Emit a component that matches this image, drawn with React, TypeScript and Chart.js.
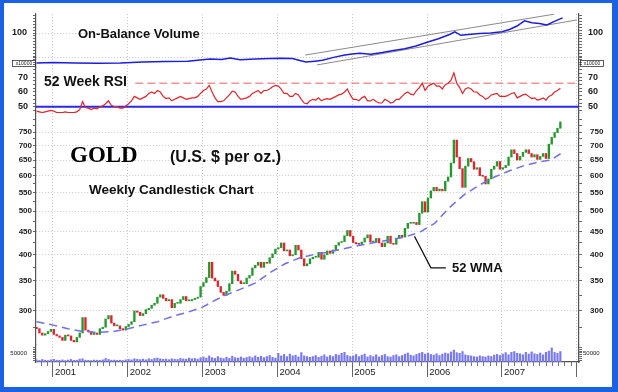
import React, { useEffect, useRef } from "react";
import { Chart, registerables } from "chart.js";

Chart.register(...registerables);

const FONT = "'Liberation Sans', Arial, Helvetica, sans-serif";
const SERIF = "'Liberation Serif', 'Times New Roman', serif";

// ---- x range (decimal years) ----
const X_MIN = 2000.773;
const X_MAX = 2008.029;
const FIRST_BAR = 2000.78; // first bi-weekly bar
const BAR_STEP = 1 / 26; // two weeks

// ---- gold closes, bi-weekly (US$/oz) ----
const firstOpen = 276;
const close2000 = [274, 268, 265, 267, 270, 273];
const close2001 = [266, 264, 262, 258, 265, 264, 258, 256, 262, 268, 290, 272, 270, 266, 268, 266, 274, 276, 288, 293, 282, 278, 278, 274, 272, 277];
const close2002 = [280, 284, 300, 298, 293, 296, 302, 304, 309, 312, 322, 326, 320, 316, 318, 305, 312, 312, 318, 323, 316, 316, 318, 320, 322, 340];
const close2003 = [347, 356, 385, 355, 350, 340, 330, 325, 332, 345, 368, 362, 350, 345, 345, 355, 360, 374, 379, 385, 375, 385, 383, 394, 402, 412];
const close2004 = [415, 425, 408, 410, 398, 400, 420, 410, 392, 378, 382, 392, 395, 395, 405, 391, 400, 408, 403, 410, 420, 426, 428, 441, 453, 440];
const close2005 = [426, 423, 422, 427, 436, 443, 427, 428, 435, 425, 417, 425, 440, 424, 422, 435, 442, 438, 458, 470, 470, 472, 467, 495, 525, 498];
const close2006 = [535, 555, 565, 555, 560, 555, 583, 596, 640, 720, 660, 622, 565, 630, 655, 644, 620, 625, 600, 598, 575, 590, 620, 630, 645, 620];
const close2007 = [625, 632, 660, 685, 672, 650, 662, 676, 685, 672, 660, 668, 652, 662, 672, 655, 705, 730, 748, 765, 790];

// ---- 52 week RSI, bi-weekly ----
const rsi2000 = [47, 46.5, 46, 46.5, 47, 47.5];
const rsi2001 = [47, 46, 46, 46, 46.5, 46, 46, 46, 46.5, 48, 53.5, 49.5, 49, 48, 49, 48.5, 50, 50.5, 52, 54, 51, 50, 50, 49, 49, 50.5];
const rsi2002 = [52, 54, 57, 56, 55, 56, 57, 59, 60, 59, 61, 60, 57, 55.5, 56, 54, 55, 56, 57, 56, 55, 55.5, 56, 56, 57, 59];
const rsi2003 = [61, 62, 64.5, 60, 56, 53.5, 53.5, 54, 56, 58, 60.5, 60, 57, 55, 55.5, 56, 57, 59, 60, 61, 59, 61, 61, 62, 63.5, 64.5];
const rsi2004 = [64, 62, 59, 59, 57, 57, 59, 58, 55, 52.5, 52, 54, 55, 54.5, 56, 54, 55, 55.5, 55, 56, 57, 58, 58.5, 60, 62, 58];
const rsi2005 = [55, 55, 54, 56, 57, 54, 54, 55, 53.5, 52.5, 52.5, 55, 54, 52.5, 53, 55, 55, 57, 59, 60, 58.5, 58, 61, 63, 66, 61];
const rsi2006 = [64, 65, 66, 64, 64, 62, 65, 66, 68, 73, 66, 63, 59, 62, 63, 62, 60, 60, 58, 57, 55, 56, 58, 58.5, 59, 57];
const rsi2007 = [57, 57, 58, 59, 59.5, 56, 57, 58, 58.5, 57, 55.5, 56, 54.5, 55, 56, 54.5, 57, 58, 60, 61, 62.5];

// ---- volume, bi-weekly (thousands) ----
const vol2000 = [12, 9, 14, 10, 8, 12];
const vol2001 = [15, 10, 9, 12, 8, 11, 14, 9, 10, 16, 18, 10, 9, 8, 11, 10, 9, 12, 20, 14, 10, 11, 9, 10, 8, 12];
const vol2002 = [14, 12, 18, 15, 13, 16, 12, 18, 14, 20, 22, 18, 15, 16, 13, 18, 15, 14, 20, 17, 16, 22, 18, 20, 16, 24];
const vol2003 = [28, 22, 34, 24, 20, 30, 22, 19, 27, 20, 32, 24, 22, 28, 21, 25, 30, 24, 34, 26, 32, 24, 30, 36, 26, 22];
const vol2004 = [48, 34, 42, 30, 44, 34, 38, 28, 52, 34, 30, 26, 30, 36, 26, 32, 40, 28, 36, 30, 42, 38, 48, 54, 36, 30];
const vol2005 = [34, 42, 30, 38, 44, 28, 36, 30, 40, 28, 36, 42, 30, 28, 36, 40, 30, 36, 44, 50, 38, 34, 42, 48, 54, 44];
const vol2006 = [50, 42, 38, 46, 36, 44, 50, 46, 56, 66, 52, 48, 58, 40, 36, 34, 30, 28, 34, 30, 28, 34, 30, 38, 42, 36];
const vol2007 = [44, 52, 40, 54, 58, 48, 46, 40, 54, 44, 56, 46, 42, 50, 40, 54, 60, 78, 54, 48, 58];

// ---- 52 week weighted moving average ----
const wmaYears = [2000.78, 2001.0, 2001.2, 2001.4, 2001.6, 2001.8, 2002.0, 2002.2, 2002.4, 2002.6, 2002.8, 2003.0, 2003.15, 2003.3, 2003.5, 2003.7, 2003.9, 2004.1, 2004.3, 2004.5, 2004.7, 2004.9, 2005.1, 2005.3, 2005.5, 2005.7, 2005.9, 2006.1, 2006.3, 2006.5, 2006.7, 2006.9, 2007.1, 2007.3, 2007.5, 2007.65, 2007.8];
const wmaValues = [284, 279, 274, 270, 269, 270, 274, 279, 284, 292, 298, 306, 316, 325, 335, 346, 365, 382, 394, 401, 406, 413, 420, 426, 432, 438, 449, 470, 510, 545, 572, 596, 615, 632, 644, 650, 674];

// ---- On-Balance Volume (x10000) ----
const obvYears = [2000.78, 2001.0, 2001.3, 2001.6, 2001.9, 2002.2, 2002.5, 2002.8, 2003.0, 2003.1, 2003.25, 2003.37, 2003.5, 2003.7, 2003.9, 2004.05, 2004.2, 2004.3, 2004.38, 2004.5, 2004.6, 2004.75, 2004.9, 2005.0, 2005.1, 2005.25, 2005.4, 2005.55, 2005.7, 2005.85, 2006.0, 2006.15, 2006.3, 2006.37, 2006.45, 2006.55, 2006.7, 2006.85, 2007.0, 2007.1, 2007.2, 2007.3, 2007.4, 2007.5, 2007.6, 2007.7, 2007.81];
const obvValues = [-3, -2, -3, -4, -3, 0, 2, 3, 8, 10, 9, 14, 8, 10, 12, 13, 12, 5, 0, 3, 6, 16, 24, 28, 30, 27, 33, 40, 46, 55, 68, 80, 95, 104, 92, 95, 98, 100, 104, 112, 124, 142, 135, 133, 128, 140, 152];
const obvUpperYears = [2004.37, 2007.7];
const obvUpperValues = [24, 165];
const obvLowerYears = [2004.53, 2008.0];
const obvLowerValues = [-10, 145];

// ---- reference levels & annotation ----
const rsiLevel = 50;
const rsiUpperLevel = 66;
const rsiUpperStart = 2002.1;
const leaderYears = [2005.83, 2006.05, 2006.25];
const leaderValues = [440, 374, 374];

// ---- ticks ----
const yearTicks = [2001, 2002, 2003, 2004, 2005, 2006, 2007, 2008];
const yearLabels = ["2001", "2002", "2003", "2004", "2005", "2006", "2007", ""];
const priceTicks = [300, 350, 400, 450, 500, 550, 600, 650, 700, 750];
const priceMinor = [275, 325, 375, 425, 475, 525, 575, 625, 675, 725, 775, 800];
const rsiTicks = [50, 60, 70];
const rsiMinor = [47.5, 52.5, 55, 57.5, 62.5, 65, 67.5, 72.5, 75];
const obvTicks = [100];
const obvGrid = [17, 100];
const obvMinor = [-10, 0, 10, 20, 30, 40, 50, 60, 70, 80, 90, 110, 120, 130, 140, 150, 160];
const volTicks = [50000];
const volMinor = [10000, 20000, 30000, 40000, 60000, 70000, 80000];

const closes = [...close2000, ...close2001, ...close2002, ...close2003, ...close2004, ...close2005, ...close2006, ...close2007];
const rsiAll = [...rsi2000, ...rsi2001, ...rsi2002, ...rsi2003, ...rsi2004, ...rsi2005, ...rsi2006, ...rsi2007];
const volAll = [...vol2000, ...vol2001, ...vol2002, ...vol2003, ...vol2004, ...vol2005, ...vol2006, ...vol2007];
const barYears = closes.map((_, i) => FIRST_BAR + i * BAR_STEP);

const candleData = closes.map((c, i) => ({ x: barYears[i], y: [i === 0 ? firstOpen : closes[i - 1], c] }));
const candleColors = closes.map((c, i) => (c >= (i === 0 ? firstOpen : closes[i - 1]) ? "#23992b" : "#e2232b"));
const pairs = (xs: number[], ys: number[]) => xs.map((x, i) => ({ x, y: ys[i] }));

const GRID = "#c8c8c8";
const DOT = [1, 2];

function yAxis(o: any) {
  const labelMap = new Map<number, string>(o.labels);
  const all = [...o.labels.map((l: any) => l[0]), ...o.minor, ...o.grid]
    .filter((v: number, i: number, a: number[]) => a.indexOf(v) === i)
    .sort((a: number, b: number) => a - b);
  return {
    type: o.type || "linear",
    position: o.side,
    stack: o.side,
    stackWeight: o.weight,
    min: o.min,
    max: o.max,
    afterBuildTicks: (s: any) => {
      s.ticks = all.map((v: number) => ({ value: v }));
    },
    afterFit: (s: any) => {
      s.width = o.side === "left" ? 36 : 39;
    },
    ticks: {
      autoSkip: false,
      padding: o.pad,
      color: "#1a1a1a",
      font: { family: FONT, size: o.size, weight: o.bold ? "bold" : "normal" },
      callback: (v: number) => labelMap.get(v) ?? "",
    },
    grid: {
      drawOnChartArea: o.side === "left",
      color: (c: any) => (c.tick && o.grid.includes(c.tick.value) ? GRID : "rgba(0,0,0,0)"),
      tickColor: "#666",
      tickLength: 3,
      lineWidth: 1,
    },
    border: { color: "#555", width: 1.2, dash: DOT },
  };
}

const priceLabels = priceTicks.map((v) => [v, String(v)]);
const rsiLabels = rsiTicks.map((v) => [v, String(v)]);
const obvLabels = obvTicks.map((v) => [v, String(v)]);
const volLabels = volTicks.map((v) => [v, String(v)]);

const extras = {
  id: "extras",
  afterDraw(chart: any) {
    const { ctx, chartArea } = chart;
    const xs = chart.scales.x;
    ctx.save();
    ctx.strokeStyle = "#777";
    ctx.lineWidth = 1;
    for (let y = 2000; y <= 2008; y++) {
      for (let m = 1; m < 12; m++) {
        const v = y + m / 12;
        if (v <= xs.min || v >= xs.max) continue;
        const px = Math.round(xs.getPixelForValue(v)) + 0.5;
        ctx.beginPath();
        ctx.moveTo(px, chartArea.bottom);
        ctx.lineTo(px, chartArea.bottom + 4);
        ctx.stroke();
      }
    }
    for (const id of ["obvL", "obvR"]) {
      const s = chart.scales[id];
      const cy = Math.round(s.bottom - 4) + 0.5;
      const x0 = id === "obvL" ? s.right - 24 : s.left + 1;
      ctx.strokeStyle = "#333";
      ctx.lineWidth = 0.8;
      ctx.strokeRect(Math.round(x0) + 0.5, cy - 3, 23, 6);
      ctx.fillStyle = "#222";
      ctx.font = `5px ${FONT}`;
      ctx.textAlign = "center";
      ctx.textBaseline = "middle";
      ctx.fillText("x10000", x0 + 12, cy);
    }
    ctx.restore();
  },
};

function buildConfig(): any {
  const panels = (side: string) => {
    const pad = side === "left";
    return {
      vol: yAxis({ side, weight: 17, min: 0, max: 94400, labels: volLabels, minor: volMinor, grid: [], size: 6, bold: false, pad: pad ? 6 : 1 }),
      price: yAxis({ side, weight: 232, type: "logarithmic", min: 252, max: 827, labels: priceLabels, minor: priceMinor, grid: priceTicks, size: 8, bold: true, pad: pad ? 1 : 8 }),
      rsi: yAxis({ side, weight: 46, min: 45.7, max: 77, labels: rsiLabels, minor: rsiMinor, grid: [], size: 9, bold: true, pad: pad ? 5 : 6 }),
      obv: yAxis({ side, weight: 53, min: -17.2, max: 165.5, labels: obvLabels, minor: obvMinor, grid: obvGrid, size: 9, bold: true, pad: pad ? 6 : 6 }),
    };
  };
  const L = panels("left");
  const R = panels("right");
  const scales: any = {
    x: {
      type: "linear",
      position: "bottom",
      min: X_MIN,
      max: X_MAX,
      offset: false,
      afterBuildTicks: (s: any) => {
        s.ticks = yearTicks.map((v) => ({ value: v }));
      },
      afterFit: (s: any) => {
        s.height = 30;
      },
      ticks: {
        autoSkip: false,
        maxRotation: 0,
        align: "start",
        labelOffset: 2,
        padding: -10,
        color: "#222",
        font: { family: FONT, size: 9.5 },
        callback: (v: number) => yearLabels[yearTicks.indexOf(v)] ?? "",
      },
      grid: { color: GRID, tickColor: "#666", tickLength: 15, offset: false, lineWidth: 1 },
      border: { color: "#555", width: 1.2, dash: DOT },
    },
    // left stack: declared bottom-to-top
    volL: L.vol,
    priceL: L.price,
    rsiL: L.rsi,
    obvL: L.obv,
    // right stack: declared top-to-bottom
    obvR: R.obv,
    rsiR: R.rsi,
    priceR: R.price,
    volR: R.vol,
  };

  const datasets: any[] = [
    { type: "line", data: pairs(leaderYears, leaderValues), yAxisID: "priceL", borderColor: "#111", borderWidth: 1.3 },
    { type: "line", data: pairs(barYears, rsiAll), yAxisID: "rsiL", borderColor: "#e3242b", borderWidth: 1.2 },
    { type: "line", data: [{ x: rsiUpperStart, y: rsiUpperLevel }, { x: X_MAX, y: rsiUpperLevel }], yAxisID: "rsiL", borderColor: "#e86060", borderWidth: 1, borderDash: [8, 4] },
    { type: "line", data: [{ x: X_MIN, y: rsiLevel }, { x: X_MAX, y: rsiLevel }], yAxisID: "rsiL", borderColor: "#2a2ae6", borderWidth: 2 },
    { type: "line", data: pairs(obvYears, obvValues), yAxisID: "obvL", borderColor: "#1d1ddc", borderWidth: 1.5 },
    { type: "line", data: pairs(obvUpperYears, obvUpperValues), yAxisID: "obvL", borderColor: "#8a8a8a", borderWidth: 1 },
    { type: "line", data: pairs(obvLowerYears, obvLowerValues), yAxisID: "obvL", borderColor: "#8a8a8a", borderWidth: 1 },
    { type: "line", data: pairs(wmaYears, wmaValues), yAxisID: "priceL", borderColor: "#6f6ff0", borderWidth: 1.5, borderDash: [8, 5] },
    { type: "bar", data: candleData, yAxisID: "priceL", backgroundColor: candleColors, barThickness: 1.7, grouped: false, minBarLength: 1 },
    { type: "bar", data: pairs(barYears, volAll.map((v) => v * 1000)), yAxisID: "volL", backgroundColor: "#7878f2", barThickness: 1.5, grouped: false },
  ];

  return {
    type: "line",
    data: { datasets },
    options: {
      animation: false,
      responsive: false,
      events: [],
      layout: { padding: { top: 14, left: 0, right: 0, bottom: 0 } },
      elements: { point: { radius: 0 }, line: { tension: 0 } },
      plugins: { legend: { display: false }, tooltip: { enabled: false }, title: { display: false } },
      scales,
    },
    plugins: [extras],
  };
}

const txt = (extra: any): any => ({
  position: "absolute",
  whiteSpace: "nowrap",
  lineHeight: 1,
  color: "#111",
  fontFamily: FONT,
  fontWeight: "bold",
  ...extra,
});

export default function App() {
  const ref = useRef<HTMLCanvasElement>(null);
  useEffect(() => {
    const chart = new Chart(ref.current as HTMLCanvasElement, buildConfig());
    return () => chart.destroy();
  }, []);
  return (
    <div style={{ position: "absolute", left: 0, top: 0, width: 618, height: 392, background: "#fff", overflow: "hidden" }}>
      <canvas ref={ref} width={618} height={392} style={{ position: "absolute", left: 0, top: 0 }} />
      <div style={txt({ left: 78, top: 27, fontSize: 13 })}>On-Balance Volume</div>
      <div style={txt({ left: 44, top: 74, fontSize: 14 })}>52 Week RSI</div>
      <div style={txt({ left: 70, top: 143, fontSize: 23, fontFamily: SERIF, color: "#000" })}>GOLD</div>
      <div style={txt({ left: 170, top: 149, fontSize: 16 })}>(U.S. $ per oz.)</div>
      <div style={txt({ left: 89, top: 183, fontSize: 13.5 })}>Weekly Candlestick Chart</div>
      <div style={txt({ left: 452, top: 261, fontSize: 13 })}>52 WMA</div>
      <div
        style={{
          position: "absolute",
          left: 0,
          top: 0,
          width: 618,
          height: 392,
          boxSizing: "border-box",
          borderStyle: "solid",
          borderColor: "#1b62e2",
          borderWidth: "3px 6px 5px 4px",
          pointerEvents: "none",
        }}
      />
    </div>
  );
}
